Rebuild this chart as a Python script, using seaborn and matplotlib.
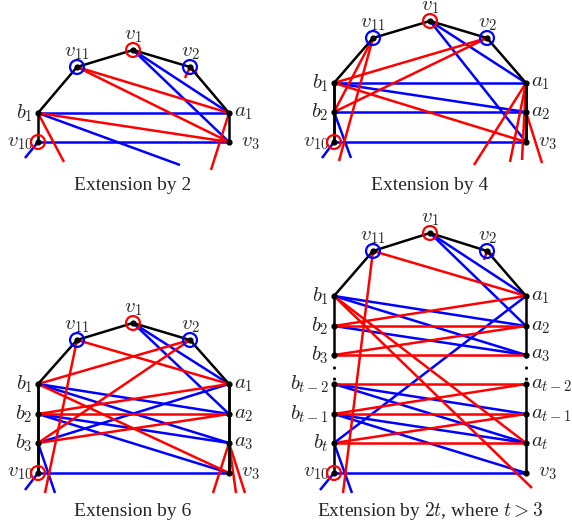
import matplotlib
matplotlib.use('Agg')
import matplotlib.pyplot as plt
import seaborn as sns

sns.set_theme(style="white")
plt.rcParams['mathtext.fontset'] = 'cm'
plt.rcParams['font.family'] = ['Liberation Serif', 'DejaVu Serif']

RED = '#ff0000'
BLUE = '#0000ff'

# node positions per panel (pixel coords of the reference)
nodes1 = {'v11': (77, 67), 'v1': (133, 50), 'v2': (190, 67), 'b1': (38, 113), 'a1': (229, 113),
          'v10': (38, 142), 'v3': (229, 142)}
nodes2 = {'v11': (373, 38), 'v1': (430, 21), 'v2': (487, 38), 'b1': (334, 83), 'b2': (334, 112),
          'v10': (334, 142), 'a1': (526, 83), 'a2': (526, 112), 'v3': (526, 142)}
nodes3 = {'v11': (77, 340), 'v1': (133, 323), 'v2': (190, 340), 'b1': (38, 384), 'b2': (38, 414),
          'b3': (38, 443), 'v10': (38, 473), 'a1': (229, 384), 'a2': (229, 414), 'a3': (229, 443),
          'v3': (229, 473)}
nodes4 = {'v11': (373, 251), 'v1': (430, 233), 'v2': (487, 251), 'b1': (334, 296), 'b2': (334, 326),
          'b3': (334, 355), 'bt2': (334, 384), 'bt1': (334, 414), 'bt': (334, 443), 'v10': (334, 473),
          'a1': (526, 296), 'a2': (526, 326), 'a3': (526, 355), 'at2': (526, 384), 'at1': (526, 414),
          'at': (526, 443), 'v3': (526, 473)}

# black frame edges
black1 = [('b1', 'v11'), ('v11', 'v1'), ('v1', 'v2'), ('v2', 'a1'), ('b1', 'v10'), ('a1', 'v3')]
black2 = black1 + [('b1', 'b2'), ('b2', 'v10'), ('a1', 'a2'), ('a2', 'v3')]
black3 = black1 + [('b1', 'b2'), ('b2', 'b3'), ('b3', 'v10'), ('a1', 'a2'), ('a2', 'a3'), ('a3', 'v3')]
black4 = [('b1', 'v11'), ('v11', 'v1'), ('v1', 'v2'), ('v2', 'a1'), ('b1', 'b2'), ('b2', 'b3'),
          ('bt2', 'bt1'), ('bt1', 'bt'), ('bt', 'v10'), ('a1', 'a2'), ('a2', 'a3'),
          ('at2', 'at1'), ('at1', 'at'), ('at', 'v3')]
dotted4 = [('b3', 'bt2'), ('a3', 'at2')]

# red / blue edges (a tuple second entry = loose end)
red1 = [('v11', 'a1'), ('v11', 'v3'), ('b1', 'v3'), ('b1', (64, 162)), ('a1', (211, 170)), ('v2', (185, 78)), ('v2', (197, 74))]
blue1 = [('b1', 'a1'), ('v10', 'v3'), ('v1', 'a1'), ('v1', 'v3'), ('b1', (180, 165)), ('v10', (25, 158))]

red2 = [('v11', 'b2'), ('v11', (339, 161)), ('v2', 'b1'), ('v2', 'b2'), ('b1', 'v3'),
        ('a1', (474, 165)), ('a1', (510, 162)), ('a1', (522, 160)), ('a2', (542, 163))]
blue2 = [('b1', 'a1'), ('b1', 'a2'), ('b2', 'a2'), ('v10', 'v3'), ('v1', 'a1'), ('v1', 'v3'),
         ('b2', (351, 158)), ('v10', (322, 158))]

red3 = [('v11', 'a1'), ('v11', (45, 493)), ('v2', 'b1'), ('v2', 'b3'), ('b1', 'v3'), ('b2', 'a1'),
        ('b2', 'a2'), ('b3', 'a2'), ('a3', (213, 493)), ('a3', (236, 493)), ('a3', (245, 493))]
blue3 = [('b1', 'a2'), ('b1', 'a3'), ('b2', 'a3'), ('b2', 'v3'), ('b3', 'a1'), ('v1', 'a1'),
         ('v1', 'a2'), ('v10', 'v3'), ('b3', (55, 493)), ('v10', (25, 490))]

red4 = [('v11', 'a1'), ('v11', (343, 493)), ('b1', 'at'), ('b1', (532, 488)), ('b2', 'a1'), ('b2', 'a2'),
        ('b3', 'a2'), ('b3', 'a3'), ('bt2', 'at2'), ('bt1', 'at2'), ('bt1', 'at1'), ('bt', 'at1'), ('bt', 'at'),
        ('v2', (484, 260)), ('v2', (494, 256))]
blue4 = [('b1', 'a2'), ('b1', 'a3'), ('b2', 'a3'), ('v1', 'a1'), ('v1', 'a2'), ('bt2', 'at1'), ('bt2', 'at'),
         ('bt1', 'at'), ('bt1', 'v3'), ('bt', 'a1'), ('v10', 'v3'), ('bt', (352, 493)), ('v10', (320, 490))]

labels = {'v11': r'$v_{11}$', 'v1': r'$v_1$', 'v2': r'$v_2$', 'b1': r'$b_1$', 'b2': r'$b_2$', 'b3': r'$b_3$',
          'bt2': r'$b_{t-2}$', 'bt1': r'$b_{t-1}$', 'bt': r'$b_t$', 'v10': r'$v_{10}$',
          'a1': r'$a_1$', 'a2': r'$a_2$', 'a3': r'$a_3$', 'at2': r'$a_{t-2}$', 'at1': r'$a_{t-1}$',
          'at': r'$a_t$', 'v3': r'$v_3$'}
rings = {'v11': BLUE, 'v1': RED, 'v2': BLUE, 'v10': RED}
captions = ['Extension by 2', 'Extension by 4', 'Extension by 6', r'Extension by $2t$, where $t > 3$']
caption_pos = [(133, 186), (430, 186), (133, 511), (430, 511)]

fig = plt.figure(figsize=(5.72, 5.28), dpi=100)
ax = fig.add_axes([0, 0, 1, 1])
ax.set_xlim(0, 572)
ax.set_ylim(528, 0)
ax.axis('off')


def pt(nodes, p):
    return nodes[p] if isinstance(p, str) else p


def draw_panel(nodes, black, red, blue, dotted=()):
    for col, edges in ((BLUE, blue), (RED, red)):
        for u, v in edges:
            p, q = pt(nodes, u), pt(nodes, v)
            ax.plot([p[0], q[0]], [p[1], q[1]], color=col, lw=1.8, solid_capstyle='butt', zorder=2)
    for u, v in black:
        p, q = nodes[u], nodes[v]
        ax.plot([p[0], q[0]], [p[1], q[1]], color='black', lw=1.8, zorder=3)
    for u, v in dotted:
        p, q = nodes[u], nodes[v]
        ax.plot([p[0], q[0]], [p[1], q[1]], color='black', lw=2, ls=(0, (1, 3)), zorder=3)
    xs = [xy[0] for xy in nodes.values()]
    left = min(xs)
    for name, (x, y) in nodes.items():
        ax.scatter([x], [y], s=12, color='black', zorder=5)
        if name in rings:
            ax.scatter([x], [y], s=100, facecolors='none', edgecolors=rings[name], linewidths=1.6, zorder=4)
        if name in ('v11', 'v1', 'v2'):
            ax.text(x, y - 5, labels[name], ha='center', va='bottom', fontsize=15)
        elif x == left:
            ax.text(x - 5, y, labels[name], ha='right', va='center', fontsize=15)
        else:
            dx = 12 if name == 'v3' else 5
            ax.text(x + dx, y, labels[name], ha='left', va='center', fontsize=15)


draw_panel(nodes1, black1, red1, blue1)
draw_panel(nodes2, black2, red2, blue2)
draw_panel(nodes3, black3, red3, blue3)
draw_panel(nodes4, black4, red4, blue4, dotted4)

for text, (x, y) in zip(captions, caption_pos):
    ax.text(x, y, text, ha='center', va='center', fontsize=14)

fig.savefig('out.png', dpi=100)
